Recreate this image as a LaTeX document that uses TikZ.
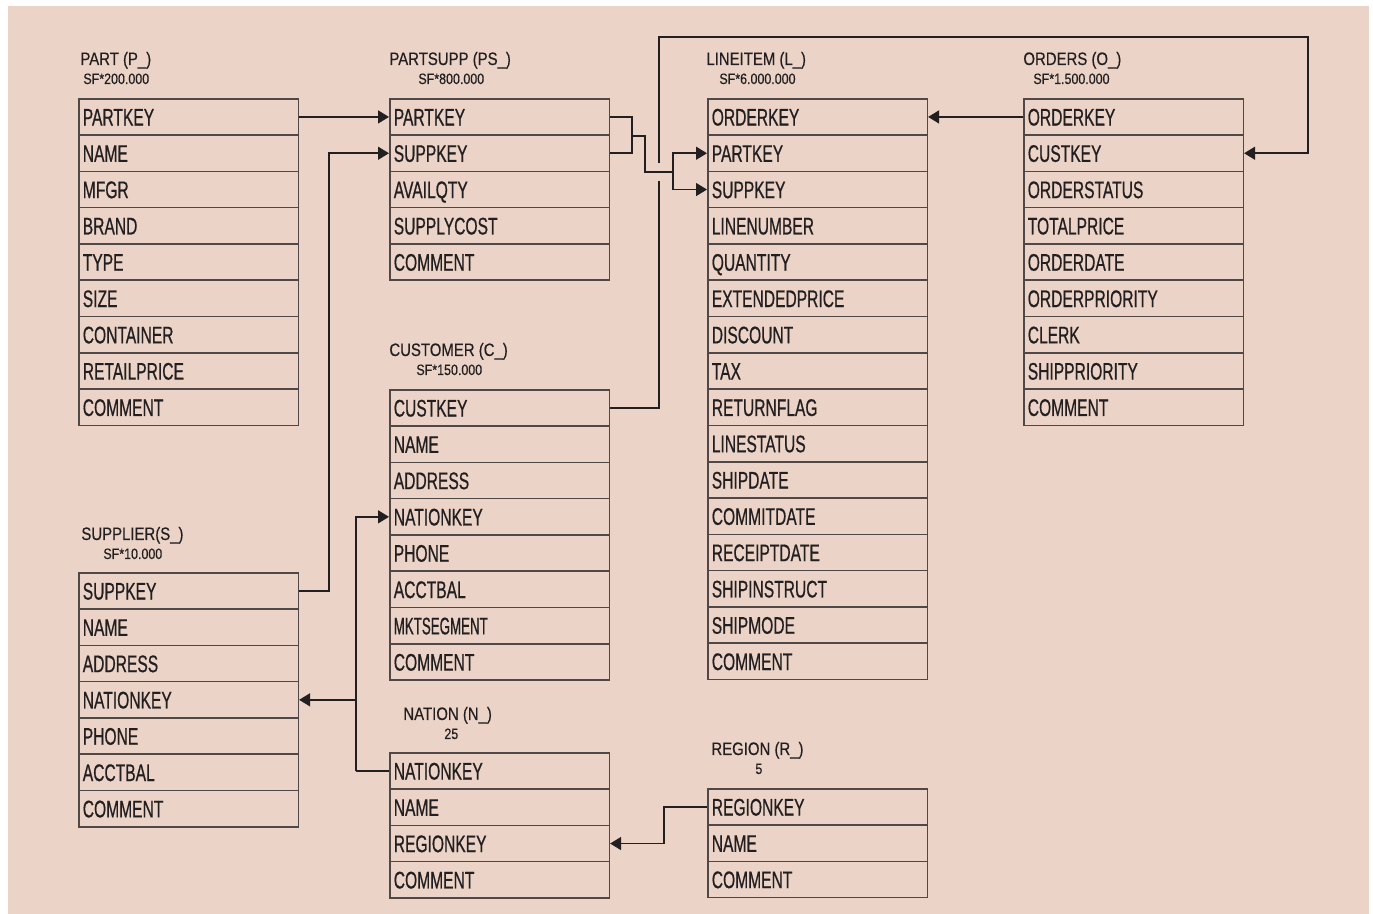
\documentclass[tikz,border=0pt]{standalone}
\usepackage{fontspec}
\setmainfont{Liberation Sans}
\newfontfamily\tblrowfont{Liberation Sans}[FakeStretch=0.65,FakeBold=0.6]
\newfontfamily\tblnarrowfont{Liberation Sans}[FakeStretch=0.555,FakeBold=0.6]
\newfontfamily\tbltitlefont{Liberation Sans}[FakeStretch=0.83,FakeBold=0.4]
\usetikzlibrary{arrows.meta,calc}
\definecolor{bgpink}{RGB}{235,211,199}
\definecolor{tblline}{RGB}{80,72,70}
\definecolor{lnk}{RGB}{35,31,32}
\definecolor{txt}{RGB}{35,31,32}
\newcommand\dbtbl[4]{%
  \foreach \f [count=\i] in {#4} {
    \node[rowbox] (#1\i) at (#2, {#3+(\i-1)*36.3}) {\f};
  }%
}
\tikzset{
  rowbox/.style={draw=tblline, line width=0.8pt, anchor=north west,
    minimum height=18.15pt, text width=105.75pt, inner xsep=2pt, inner ysep=0pt,
    align=left, text height=8.6pt, text depth=0pt, text=txt,
    font=\tblrowfont\fontsize{12}{14}\selectfont},
  ttl/.style={anchor=base west, inner sep=0pt, text=txt,
    font=\tbltitlefont\fontsize{9}{11}\selectfont},
  subttl/.style={anchor=base west, inner sep=0pt, text=txt,
    font=\tbltitlefont\fontsize{7.5}{9}\selectfont},
  conn/.style={draw=lnk, line width=0.75pt},
  arr/.style={conn, -{Triangle[length=5.5pt,width=6.5pt]}}
}
\begin{document}
\begin{tikzpicture}[x=0.5pt,y=-0.5pt]
\useasboundingbox (0,0) rectangle (1373,914);
\fill[white] (0,0) rectangle (1373,914);
\fill[bgpink] (8,6) rectangle (1369,914);

% PART
\node[ttl] (tP) at (80,65) {PART (P\_)};
\node[subttl] (sP) at (83,84) {SF*200.000};
\dbtbl{P}{78}{98}{PARTKEY,NAME,MFGR,BRAND,TYPE,SIZE,CONTAINER,RETAILPRICE,COMMENT}

% PARTSUPP
\node[ttl] (tPS) at (389,65) {PARTSUPP (PS\_)};
\node[subttl] (sPS) at (418,84) {SF*800.000};
\dbtbl{PS}{389}{98}{PARTKEY,SUPPKEY,AVAILQTY,SUPPLYCOST,COMMENT}

% LINEITEM
\node[ttl] (tL) at (706,65) {LINEITEM (L\_)};
\node[subttl] (sL) at (719,84) {SF*6.000.000};
\dbtbl{L}{707}{98}{ORDERKEY,PARTKEY,SUPPKEY,LINENUMBER,QUANTITY,EXTENDEDPRICE,DISCOUNT,TAX,RETURNFLAG,LINESTATUS,SHIPDATE,COMMITDATE,RECEIPTDATE,SHIPINSTRUCT,SHIPMODE,COMMENT}

% ORDERS
\node[ttl] (tO) at (1023,65) {ORDERS (O\_)};
\node[subttl] (sO) at (1033,84) {SF*1.500.000};
\dbtbl{O}{1023}{98}{ORDERKEY,CUSTKEY,ORDERSTATUS,TOTALPRICE,ORDERDATE,ORDERPRIORITY,CLERK,SHIPPRIORITY,COMMENT}

% CUSTOMER
\node[ttl] (tC) at (389,356) {CUSTOMER (C\_)};
\node[subttl] (sC) at (416,375) {SF*150.000};
\dbtbl{C}{389}{389}{CUSTKEY,NAME,ADDRESS,NATIONKEY,PHONE,ACCTBAL,{\tblnarrowfont MKTSEGMENT},COMMENT}

% SUPPLIER
\node[ttl] (tS) at (81,540) {SUPPLIER(S\_)};
\node[subttl] (sS) at (103,559) {SF*10.000};
\dbtbl{S}{78}{572}{SUPPKEY,NAME,ADDRESS,NATIONKEY,PHONE,ACCTBAL,COMMENT}

% NATION
\node[ttl] (tN) at (403,720) {NATION (N\_)};
\node[subttl] (sN) at (444,739) {25};
\dbtbl{N}{389}{752}{NATIONKEY,NAME,REGIONKEY,COMMENT}

% REGION
\node[ttl] (tR) at (711,755) {REGION (R\_)};
\node[subttl] (sR) at (755,774) {5};
\dbtbl{R}{707}{788}{REGIONKEY,NAME,COMMENT}

% connectors
\draw[arr] (P1.east) -- (PS1.west);
\draw[arr] (S1.east) -- ++(30,0) |- (PS2.west);

\coordinate (nb) at ($(N1.west)+(-33,0)$);
\draw[conn] (N1.west) -- (nb);
\draw[arr] (nb) |- (C4.west);
\draw[arr] (nb |- S4.east) -- (S4.east);

\draw[arr] (R1.west) -- ++(-43,0) |- (N3.east);
\draw[arr] (O1.west) -- (L1.east);

\coordinate (bx) at ($(PS1.south east)+(22,0)$);
\draw[conn] (PS1.east) -| (bx) |- (PS2.east);
\coordinate (lj) at ($(L2.south west)+(-34,0)$);
\draw[conn] (bx) -- ++(13,0) |- (lj);
\draw[arr] (lj) |- (L2.west);
\draw[arr] (lj) |- (L3.west);

\coordinate (cx) at ($(C1.east)+(49,0)$);
\coordinate (tr) at (1308,37);
\draw[conn] (C1.east) -| ($(cx |- lj)+(0,9)$);
\draw[arr] ($(cx |- lj)+(0,-9)$) |- (tr) |- (O2.east);
\end{tikzpicture}
\end{document}
